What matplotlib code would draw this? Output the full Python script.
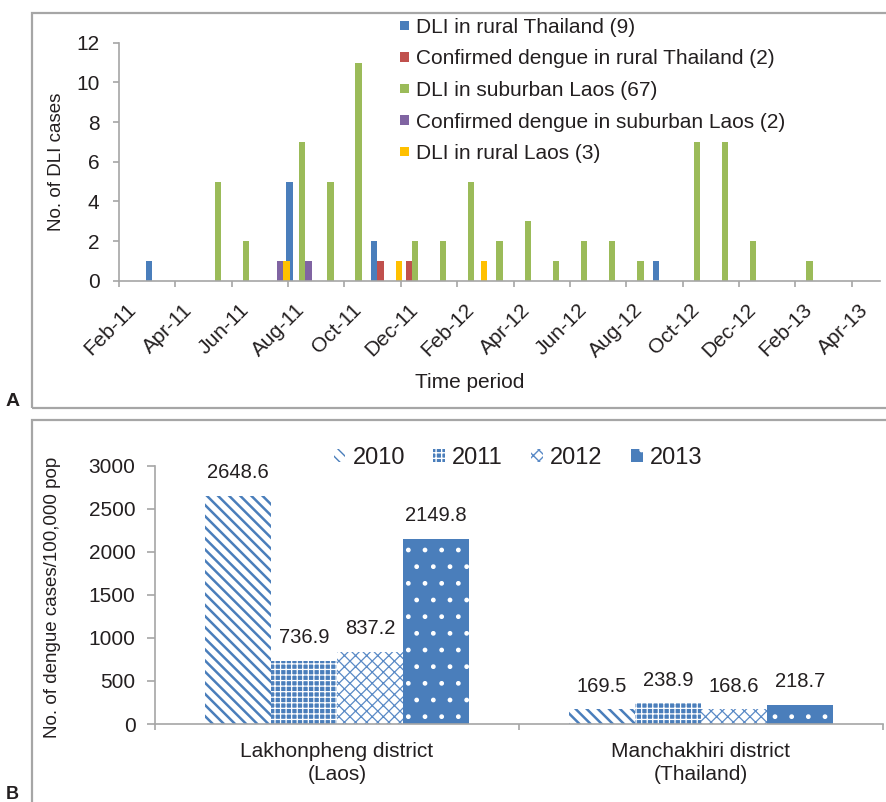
import numpy as np
import matplotlib
matplotlib.use('Agg')
import matplotlib.pyplot as plt
from matplotlib.patches import Rectangle
from matplotlib.transforms import ScaledTranslation

plt.rcParams['font.family'] = ['Liberation Sans', 'DejaVu Sans']

# ---- panel A data: monthly DLI cases, Feb-11 .. Apr-13 (27 months) ----
n_months = 27
tick_labels_a = ['Feb-11', 'Apr-11', 'Jun-11', 'Aug-11', 'Oct-11', 'Dec-11', 'Feb-12',
                 'Apr-12', 'Jun-12', 'Aug-12', 'Oct-12', 'Dec-12', 'Feb-13', 'Apr-13']
dli_rural_thai = [0, 1, 0, 0, 0, 0, 5, 0, 0, 2, 0, 0, 0, 0, 0, 0, 0, 0, 0, 1, 0, 0, 0, 0, 0, 0, 0]
conf_rural_thai = [0, 0, 0, 0, 0, 0, 0, 0, 0, 1, 1, 0, 0, 0, 0, 0, 0, 0, 0, 0, 0, 0, 0, 0, 0, 0, 0]
dli_suburb_laos = [0, 0, 0, 5, 2, 0, 7, 5, 11, 0, 2, 2, 5, 2, 3, 1, 2, 2, 1, 0, 7, 7, 2, 0, 1, 0, 0]
conf_suburb_laos = [0, 0, 0, 0, 0, 1, 1, 0, 0, 0, 0, 0, 0, 0, 0, 0, 0, 0, 0, 0, 0, 0, 0, 0, 0, 0, 0]
dli_rural_laos = [0, 0, 0, 0, 0, 1, 0, 0, 0, 1, 0, 0, 1, 0, 0, 0, 0, 0, 0, 0, 0, 0, 0, 0, 0, 0, 0]
series_a = [dli_rural_thai, conf_rural_thai, dli_suburb_laos, conf_suburb_laos, dli_rural_laos]
labels_a = ['DLI in rural Thailand (9)', 'Confirmed dengue in rural Thailand (2)',
            'DLI in suburban Laos (67)', 'Confirmed dengue in suburban Laos (2)',
            'DLI in rural Laos (3)']
colors_a = ['#4A7EBB', '#C0504D', '#9BBB59', '#8064A2', '#FFC000']

# ---- panel B data: dengue incidence per 100,000 ----
districts = ['Lakhonpheng district\n(Laos)', 'Manchakhiri district\n(Thailand)']
years = ['2010', '2011', '2012', '2013']
inc_2010 = [2648.6, 169.5]
inc_2011 = [736.9, 238.9]
inc_2012 = [837.2, 168.6]
inc_2013 = [2149.8, 218.7]
series_b = [inc_2010, inc_2011, inc_2012, inc_2013]

W, H = 887, 802
fig = plt.figure(figsize=(W / 100, H / 100), dpi=100)
txt = '#231F20'
gray = '#A6A6A6'


def fx(px):
    return px / W


def fy(py):
    return 1 - py / H


# panel frames
fig.add_artist(Rectangle((fx(32), fy(408)), fx(900 - 32), fy(13) - fy(408),
                         transform=fig.transFigure, fill=False, ec=gray, lw=1.6))
fig.add_artist(Rectangle((fx(32), fy(830)), fx(900 - 32), fy(420) - fy(830),
                         transform=fig.transFigure, fill=False, ec=gray, lw=1.6))
fig.text(fx(6), fy(402), 'A', fontsize=14, fontweight='bold', va='center', color=txt)
fig.text(fx(6), fy(786), 'B', fontsize=13, fontweight='bold', va='top', color=txt)


def style_axes(ax):
    for s in ['top', 'right']:
        ax.spines[s].set_visible(False)
    for s in ['left', 'bottom']:
        ax.spines[s].set_color(gray)
        ax.spines[s].set_linewidth(1.2)
    ax.tick_params(which='both', colors=gray, labelcolor=txt, direction='out', width=1.2)


# ---- panel A ----
axA = fig.add_axes([fx(119), fy(280.7), fx(880) - fx(119), fy(42.7) - fy(280.7)])
x = np.arange(n_months)
w = 0.223
for j, (vals, lab, col) in enumerate(zip(series_a, labels_a, colors_a)):
    axA.bar(x + (j - 2) * w, vals, width=w, color=col, label=lab, linewidth=0)
axA.set_xlim(-0.5, n_months - 0.5)
axA.set_ylim(0, 12)
axA.set_yticks(range(0, 13, 2))
axA.set_xticks(x[::2])
axA.set_xticklabels(tick_labels_a, rotation=45, ha='right', va='top', rotation_mode='anchor')
axA.set_xticks(np.arange(-0.5, n_months - 0.5, 2), minor=True)
style_axes(axA)
axA.tick_params(axis='x', which='major', length=0, pad=14, labelsize=15)
axA.tick_params(axis='x', which='minor', length=4)
axA.tick_params(axis='y', length=4, labelsize=15, pad=10)
off = ScaledTranslation(-7 / 100, 0, fig.dpi_scale_trans)
for t in axA.get_xticklabels():
    t.set_transform(t.get_transform() + off)
fig.text(fx(470), fy(382), 'Time period', fontsize=15, ha='center', va='center', color=txt)
fig.text(fx(57), fy(162), 'No. of DLI cases', fontsize=13.5, ha='center', va='center',
         rotation=90, color=txt)
axA.legend(loc='upper left', bbox_to_anchor=(fx(400), fy(18)), bbox_transform=fig.transFigure,
           frameon=False, fontsize=15, handlelength=0.45, handleheight=0.35, handletextpad=0.3,
           labelspacing=0.6, borderaxespad=0, borderpad=0, labelcolor=txt)

# ---- panel B ----
axB = fig.add_axes([fx(155), fy(724), fx(883) - fx(155), fy(465.7) - fy(724)])
xb = np.arange(len(districts))
wb = 0.1815
blue = '#4A7EBB'
styles = [
    dict(facecolor='white', edgecolor=blue, hatch='\\\\\\', hlw=1.8),
    dict(facecolor=blue, edgecolor='white', hatch='+++', hlw=0.9),
    dict(facecolor='white', edgecolor='#5A8AC6', hatch='xxx', hlw=0.9),
    dict(facecolor=blue, edgecolor='white', hatch='.', hlw=1.0),
]
for j, (vals, yr, st) in enumerate(zip(series_b, years, styles)):
    plt.rcParams['hatch.linewidth'] = st['hlw']
    bars = axB.bar(xb + (j - 1.5) * wb, vals, width=wb, facecolor=st['facecolor'],
                   edgecolor=st['edgecolor'], hatch=st['hatch'], linewidth=0, label=yr)
    for b in bars:
        if hasattr(b, 'set_hatch_linewidth'):
            b.set_hatch_linewidth(st['hlw'])
    for b, v in zip(bars, vals):
        axB.annotate(f'{v:.1f}', (b.get_x() + b.get_width() / 2, v), xytext=(0, 10),
                     textcoords='offset points', ha='center', va='bottom', fontsize=14.5,
                     color=txt)
axB.set_xlim(-0.5, len(districts) - 0.5)
axB.set_ylim(0, 3000)
axB.set_yticks(range(0, 3001, 500))
axB.set_xticks(xb)
axB.set_xticklabels(districts, linespacing=1.25)
axB.set_xticks(np.arange(-0.5, len(districts), 1), minor=True)
style_axes(axB)
axB.tick_params(axis='x', which='major', length=0, pad=13, labelsize=15)
axB.tick_params(axis='x', which='minor', length=4)
axB.tick_params(axis='y', length=6, labelsize=15, pad=8)
fig.text(fx(53), fy(597), 'No. of dengue cases/100,000 pop', fontsize=13.5, ha='center',
         va='center', rotation=90, color=txt)
axB.legend(loc='center', bbox_to_anchor=(fx(518), fy(458)), bbox_transform=fig.transFigure,
           ncol=4, frameon=False, fontsize=17, handlelength=0.5, handleheight=0.45,
           handletextpad=0.3, columnspacing=1.2, borderaxespad=0, borderpad=0, labelcolor=txt)

fig.savefig('out.png', dpi=100)
